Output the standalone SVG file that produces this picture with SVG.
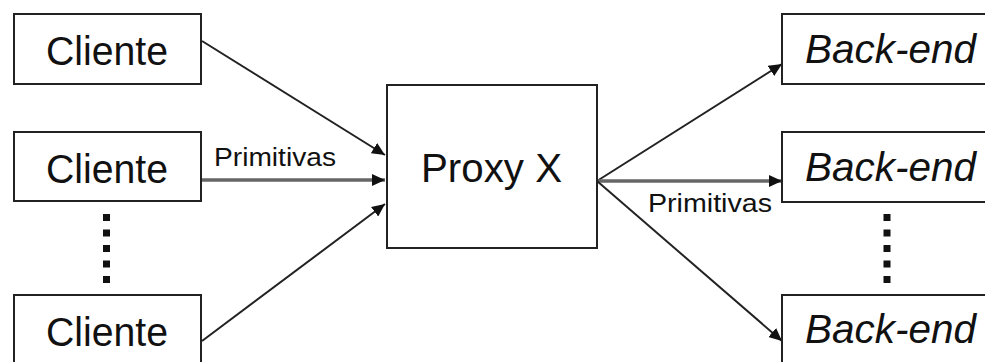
<svg xmlns="http://www.w3.org/2000/svg" width="985" height="362" viewBox="0 0 985 362">
<style>
.box{fill:#fff;stroke:#222;stroke-width:2}
.lbl{font-family:"Liberation Sans",Arial,sans-serif;font-size:41px;fill:#111}
.it{font-style:italic}
.small{font-family:"Liberation Sans",Arial,sans-serif;font-size:25px;fill:#111}
.diag{stroke:#222;stroke-width:2;fill:none}
.horiz{stroke:#666;stroke-width:3.5;fill:none}
.dots{stroke:#111;stroke-width:7;stroke-dasharray:7 8.5;fill:none}
</style>
<defs>
<marker id="ah" markerUnits="userSpaceOnUse" markerWidth="14" markerHeight="12" refX="13" refY="6" orient="auto">
<path d="M0,0 L13,6 L0,12 Z" fill="#111"/>
</marker>
</defs>
<rect width="985" height="362" fill="#fff"/>
<g id="connectors">
<line class="diag" x1="202" y1="41" x2="385" y2="155" marker-end="url(#ah)"/>
<line class="horiz" x1="202" y1="180" x2="385" y2="180" marker-end="url(#ah)"/>
<line class="diag" x1="202" y1="341" x2="385" y2="204" marker-end="url(#ah)"/>
<line class="diag" x1="597" y1="181" x2="782" y2="64" marker-end="url(#ah)"/>
<line class="horiz" x1="597" y1="181" x2="782" y2="181" marker-end="url(#ah)"/>
<line class="diag" x1="597" y1="181" x2="782" y2="341" marker-end="url(#ah)"/>
<text class="small" x="214" y="166" textLength="122" lengthAdjust="spacingAndGlyphs">Primitivas</text>
<text class="small" x="648" y="212" textLength="124" lengthAdjust="spacingAndGlyphs">Primitivas</text>
</g>
<g id="dots-left"><line class="dots" x1="106.5" y1="214" x2="106.5" y2="284"/></g>
<g id="dots-right"><line class="dots" x1="887" y1="214" x2="887" y2="284"/></g>
<g id="cliente1">
<rect class="box" x="14" y="14" width="187" height="70"/>
<text class="lbl" x="46" y="65" textLength="122" lengthAdjust="spacingAndGlyphs">Cliente</text>
</g>
<g id="cliente2">
<rect class="box" x="14" y="132" width="187" height="69"/>
<text class="lbl" x="46" y="183" textLength="122" lengthAdjust="spacingAndGlyphs">Cliente</text>
</g>
<g id="cliente3">
<rect class="box" x="14" y="295" width="187" height="80"/>
<text class="lbl" x="46" y="346" textLength="122" lengthAdjust="spacingAndGlyphs">Cliente</text>
</g>
<g id="proxy">
<rect class="box" x="387" y="85" width="210" height="163"/>
<text class="lbl" x="421" y="182" textLength="141" lengthAdjust="spacingAndGlyphs">Proxy X</text>
</g>
<g id="backend1">
<rect class="box" x="782" y="14" width="215" height="70"/>
<text class="lbl it" x="805" y="63" textLength="171" lengthAdjust="spacingAndGlyphs">Back-end</text>
</g>
<g id="backend2">
<rect class="box" x="782" y="132" width="215" height="70"/>
<text class="lbl it" x="805" y="181" textLength="171" lengthAdjust="spacingAndGlyphs">Back-end</text>
</g>
<g id="backend3">
<rect class="box" x="782" y="295" width="215" height="80"/>
<text class="lbl it" x="805" y="343" textLength="171" lengthAdjust="spacingAndGlyphs">Back-end</text>
</g>
</svg>
